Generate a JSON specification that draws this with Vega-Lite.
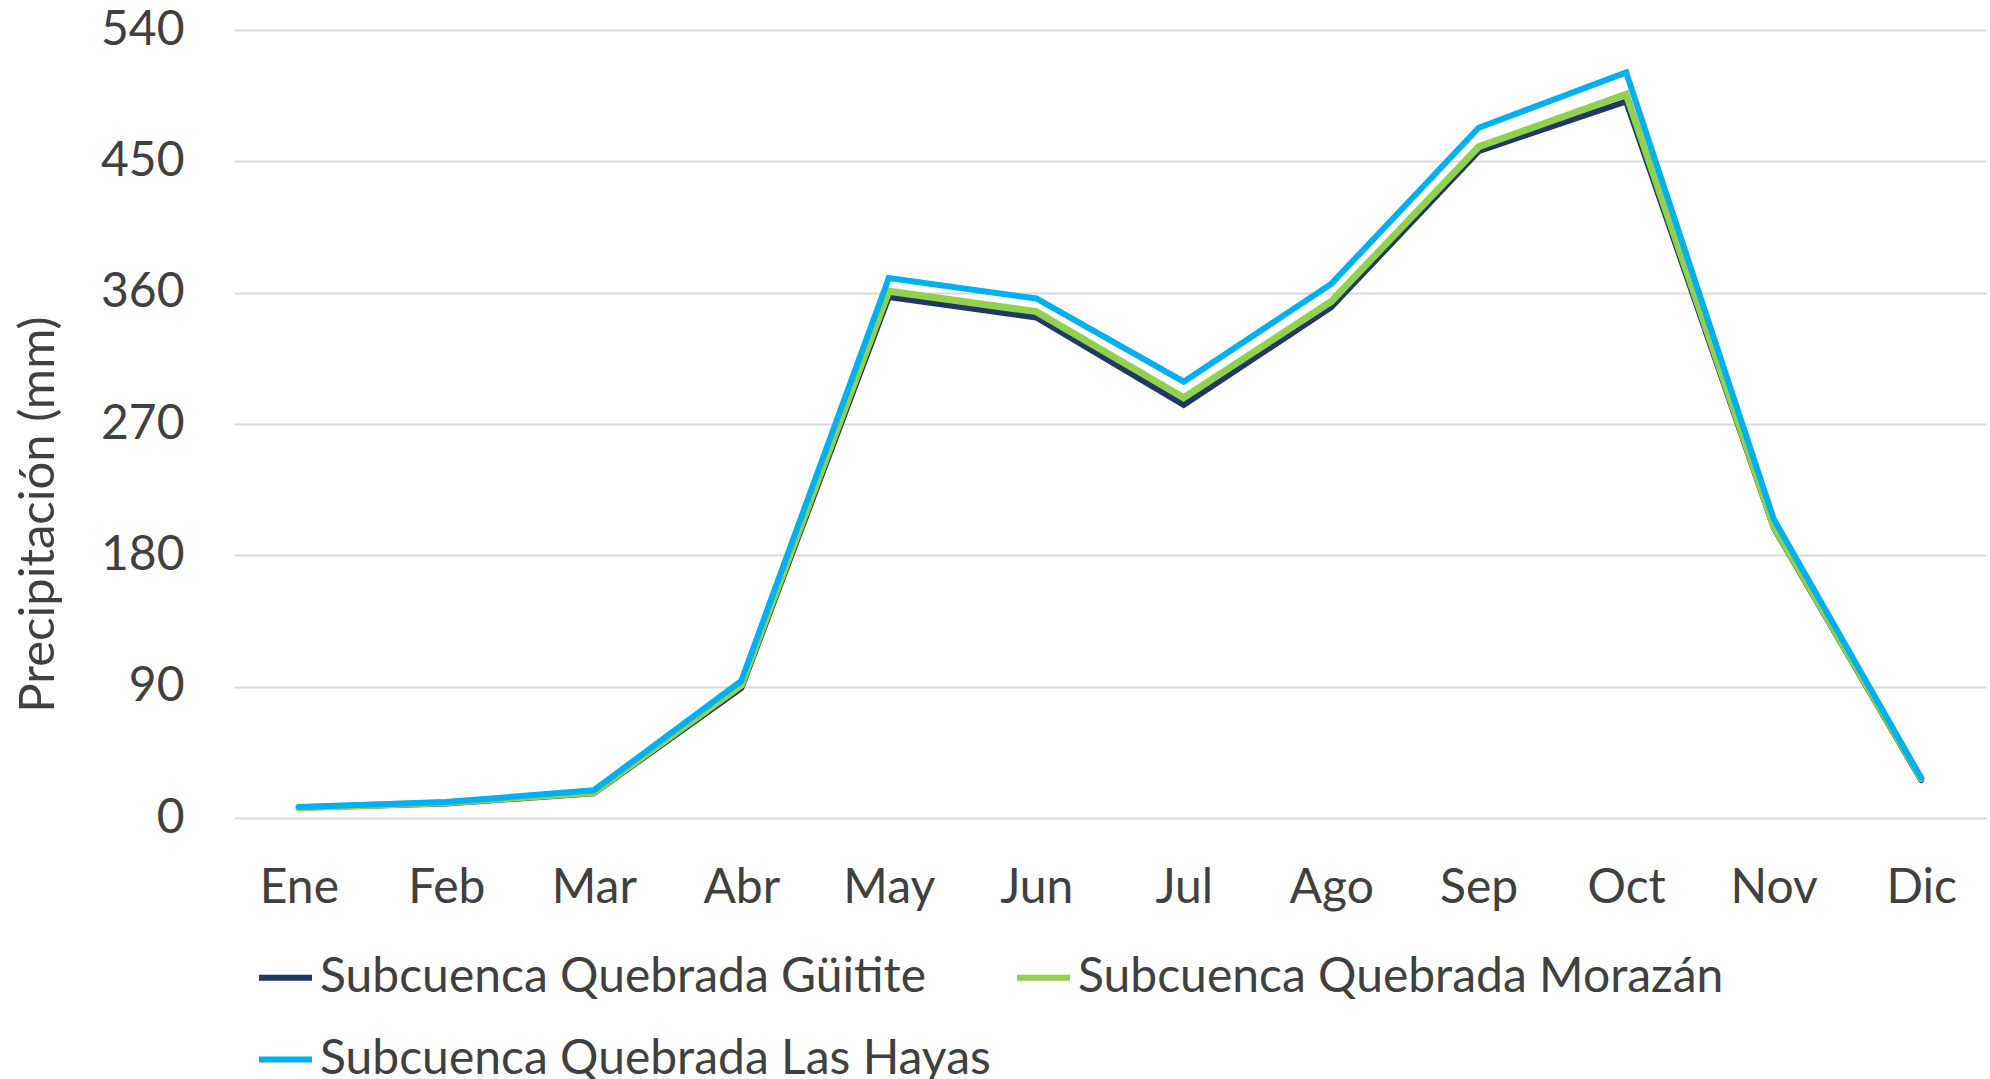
{
  "$schema": "https://vega.github.io/schema/vega-lite/v6.json",
  "width": 1752,
  "height": 788,
  "autosize": "none",
  "padding": {"left": 234, "top": 30, "right": 4, "bottom": 261},
  "background": "white",
  "config": {
    "view": {"stroke": null},
    "font": "Lato",
    "axis": {"labelFont": "Lato", "titleFont": "Lato", "labelColor": "#404040", "titleColor": "#404040"}
  },
  "data": {
    "values": [
      {"mes": "Ene", "serie": "Subcuenca Quebrada Güitite", "p": 7},
      {"mes": "Feb", "serie": "Subcuenca Quebrada Güitite", "p": 10},
      {"mes": "Mar", "serie": "Subcuenca Quebrada Güitite", "p": 17},
      {"mes": "Abr", "serie": "Subcuenca Quebrada Güitite", "p": 89},
      {"mes": "May", "serie": "Subcuenca Quebrada Güitite", "p": 357},
      {"mes": "Jun", "serie": "Subcuenca Quebrada Güitite", "p": 343},
      {"mes": "Jul", "serie": "Subcuenca Quebrada Güitite", "p": 283},
      {"mes": "Ago", "serie": "Subcuenca Quebrada Güitite", "p": 350},
      {"mes": "Sep", "serie": "Subcuenca Quebrada Güitite", "p": 457},
      {"mes": "Oct", "serie": "Subcuenca Quebrada Güitite", "p": 491},
      {"mes": "Nov", "serie": "Subcuenca Quebrada Güitite", "p": 199},
      {"mes": "Dic", "serie": "Subcuenca Quebrada Güitite", "p": 26},
      {"mes": "Ene", "serie": "Subcuenca Quebrada Morazán", "p": 7},
      {"mes": "Feb", "serie": "Subcuenca Quebrada Morazán", "p": 10.5},
      {"mes": "Mar", "serie": "Subcuenca Quebrada Morazán", "p": 17.5},
      {"mes": "Abr", "serie": "Subcuenca Quebrada Morazán", "p": 91},
      {"mes": "May", "serie": "Subcuenca Quebrada Morazán", "p": 361},
      {"mes": "Jun", "serie": "Subcuenca Quebrada Morazán", "p": 347},
      {"mes": "Jul", "serie": "Subcuenca Quebrada Morazán", "p": 288},
      {"mes": "Ago", "serie": "Subcuenca Quebrada Morazán", "p": 354},
      {"mes": "Sep", "serie": "Subcuenca Quebrada Morazán", "p": 460},
      {"mes": "Oct", "serie": "Subcuenca Quebrada Morazán", "p": 496},
      {"mes": "Nov", "serie": "Subcuenca Quebrada Morazán", "p": 200},
      {"mes": "Dic", "serie": "Subcuenca Quebrada Morazán", "p": 27},
      {"mes": "Ene", "serie": "Subcuenca Quebrada Las Hayas", "p": 7.5},
      {"mes": "Feb", "serie": "Subcuenca Quebrada Las Hayas", "p": 11},
      {"mes": "Mar", "serie": "Subcuenca Quebrada Las Hayas", "p": 19},
      {"mes": "Abr", "serie": "Subcuenca Quebrada Las Hayas", "p": 94},
      {"mes": "May", "serie": "Subcuenca Quebrada Las Hayas", "p": 370},
      {"mes": "Jun", "serie": "Subcuenca Quebrada Las Hayas", "p": 356},
      {"mes": "Jul", "serie": "Subcuenca Quebrada Las Hayas", "p": 299},
      {"mes": "Ago", "serie": "Subcuenca Quebrada Las Hayas", "p": 366},
      {"mes": "Sep", "serie": "Subcuenca Quebrada Las Hayas", "p": 473},
      {"mes": "Oct", "serie": "Subcuenca Quebrada Las Hayas", "p": 511},
      {"mes": "Nov", "serie": "Subcuenca Quebrada Las Hayas", "p": 205},
      {"mes": "Dic", "serie": "Subcuenca Quebrada Las Hayas", "p": 27.5}
    ]
  },
  "encoding": {
    "x": {
      "field": "mes", "type": "ordinal",
      "sort": ["Ene", "Feb", "Mar", "Abr", "May", "Jun", "Jul", "Ago", "Sep", "Oct", "Nov", "Dic"],
      "scale": {"type": "point", "padding": 0.44},
      "axis": {"title": null, "labelAngle": 0, "labelFontSize": 48, "labelPadding": 46, "ticks": false, "domain": false, "grid": false, "labelBaseline": "top"}
    },
    "y": {
      "field": "p", "type": "quantitative",
      "scale": {"domain": [0, 540], "nice": false},
      "axis": {
        "title": "Precipitación (mm)", "titleFontSize": 49, "titleFontWeight": "normal",
        "titleAngle": -90, "titleX": -196, "titleY": 484, "titleBaseline": "middle", "titleAlign": "center",
        "values": [0, 90, 180, 270, 360, 450, 540],
        "labelFontSize": 48, "labelPadding": 50, "ticks": false, "domain": false,
        "grid": true, "gridColor": "#d9d9d9", "gridWidth": 2, "labelBaseline": "middle"
      }
    },
    "color": {
      "field": "serie", "type": "nominal",
      "scale": {
        "domain": ["Subcuenca Quebrada Güitite", "Subcuenca Quebrada Morazán", "Subcuenca Quebrada Las Hayas"],
        "range": ["#203864", "#92d050", "#00b0f0"]
      },
      "legend": {
        "title": null, "orient": "none", "legendX": 22, "legendY": 918,
        "direction": "horizontal", "columns": 2, "columnPadding": 14, "rowPadding": 28,
        "symbolType": "stroke", "symbolSize": 2809, "symbolStrokeWidth": 6,
        "labelFont": "Lato", "labelFontSize": 48, "labelColor": "#404040", "labelOffset": 5,
        "labelLimit": 0
      }
    }
  },
  "layer": [
    {"transform": [{"filter": "datum.serie === 'Subcuenca Quebrada Güitite'"}], "mark": {"type": "line", "strokeWidth": 6, "strokeCap": "round"}},
    {"transform": [{"filter": "datum.serie === 'Subcuenca Quebrada Morazán'"}], "mark": {"type": "line", "strokeWidth": 7, "strokeCap": "round"}},
    {"transform": [{"filter": "datum.serie === 'Subcuenca Quebrada Las Hayas'"}], "mark": {"type": "line", "strokeWidth": 6, "strokeCap": "round"}}
  ]
}
